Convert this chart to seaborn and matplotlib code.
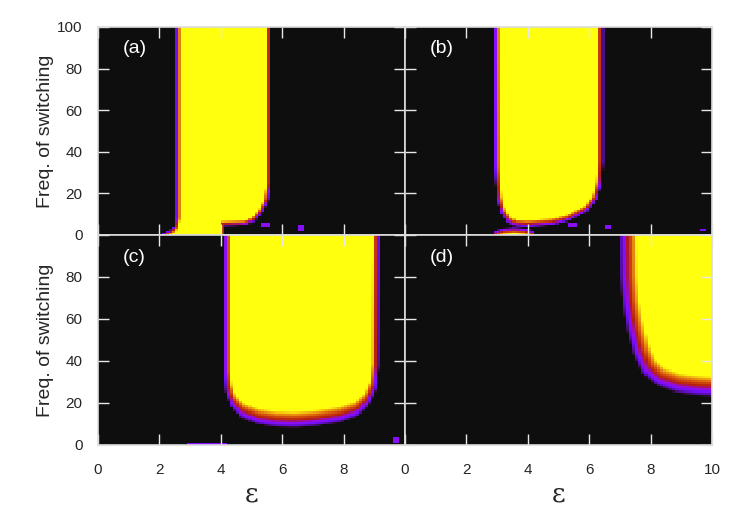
import numpy as np
import matplotlib
matplotlib.use("Agg")
import matplotlib.pyplot as plt
from matplotlib.path import Path
from matplotlib.colors import ListedColormap
import seaborn as sns

# ---------------- data ----------------
eps_ticks = [0, 2, 4, 6, 8, 10]
freq_ticks = [0, 20, 40, 60, 80, 100]
panel_labels = ["(a)", "(b)", "(c)", "(d)"]

# mid-level (red) contour of the yellow regions, as (eps, freq) vertices
a_eps = [2.6, 2.6, 2.52, 2.38, 2.2, 2.1, 4.05, 4.05, 4.8, 5.05, 5.3, 5.48, 5.56, 5.56]
a_freq = [110, 8, 3.5, 1.5, 0.5, -10, -10, 5.5, 5.8, 7.5, 11.5, 17, 25, 110]

b_eps = [2.99, 3.0, 3.07, 3.2, 3.4, 3.6, 4.0, 4.8, 5.3, 5.9, 6.2, 6.33, 6.37, 6.37]
b_freq = [110, 33, 18, 11, 7.2, 5.8, 5.5, 6.3, 8.2, 12.5, 18, 25, 35, 110]
b2_eps = [2.85, 2.95, 3.2, 3.55, 3.9, 4.15, 4.25]
b2_freq = [-5, 0.5, 1.8, 2.2, 1.8, 0.5, -5]

c_eps = [4.2, 4.2, 4.25, 4.4, 4.7, 5.2, 5.8, 6.4, 7.1, 7.8, 8.4, 8.75, 8.97, 9.05, 9.08]
c_freq = [110, 35, 27, 21, 16.5, 13.6, 12.3, 12, 12.8, 14.3, 17, 21.5, 28, 38, 110]

d_eps = [7.25, 7.28, 7.35, 7.5, 7.7, 7.95, 8.3, 8.9, 9.5, 10.5, 10.5]
d_freq = [110, 80, 68, 56, 45, 37, 32.5, 29.5, 28.3, 27.5, 110]

# isolated low-level specks: eps0, eps1, freq0, freq1, level
a_specks = [(5.33, 5.6, 3.7, 5.6, 0.3), (6.5, 6.7, 2.4, 4.5, 0.28)]
b_specks = [(5.3, 5.6, 4.0, 5.5, 0.3), (6.5, 6.7, 3.0, 4.5, 0.28), (9.6, 9.8, 2.0, 3.0, 0.25)]
c_specks = [(2.9, 4.2, 0.0, 1.0, 0.28), (9.6, 9.8, 1.5, 4.0, 0.3)]
d_specks = []

N_EPS, N_FREQ = 100, 100
PX_EPS, PX_FREQ = 30.7, 2.08  # pixels per data unit


def seg_dist(Q, P):
    d = np.full(Q.shape[0], np.inf)
    for a, b in zip(P[:-1], P[1:]):
        ab = b - a
        L = (ab ** 2).sum()
        t = np.clip(((Q - a) @ ab) / L, 0, 1)
        proj = a + t[:, None] * ab
        d = np.minimum(d, np.sqrt(((Q - proj) ** 2).sum(axis=1)))
    return d


def build_field(polys, wx, wy, specks):
    ec = (np.arange(N_EPS) + 0.5) * 10.0 / N_EPS
    fc = (np.arange(N_FREQ) + 0.5) * 100.0 / N_FREQ
    E, F = np.meshgrid(ec, fc)
    sx, sy = PX_EPS / wx, PX_FREQ / wy
    Q = np.column_stack([E.ravel() * sx, F.ravel() * sy])
    v = np.zeros(E.size)
    for pe, pf in polys:
        P = np.column_stack([np.array(pe) * sx, np.array(pf) * sy])
        P = np.vstack([P, P[:1]])
        inside = Path(P).contains_points(Q)
        d = seg_dist(Q, P)
        sd = np.where(inside, d, -d)
        v = np.maximum(v, np.clip(0.5 + 0.5 * sd, 0, 1))
    v = v.reshape(E.shape)
    for e0, e1, f0, f1, val in specks:
        m = (E >= e0) & (E <= e1) & (F >= f0) & (F <= f1)
        v[m] = np.maximum(v[m], val)
    return v


fields = [
    build_field([(a_eps, a_freq)], 2.6, 2.6, a_specks),
    build_field([(b_eps, b_freq), (b2_eps, b2_freq)], 3.0, 3.5, b_specks),
    build_field([(c_eps, c_freq)], 3.8, 8.0, c_specks),
    build_field([(d_eps, d_freq)], 9.0, 10.0, d_specks),
]

# gnuplot (7,5,15) palette with a slightly lifted black, like the textured print
base = plt.get_cmap("gnuplot")(np.linspace(0, 1, 256))
base[:, :3] = np.maximum(base[:, :3], 0.055)
cmap = ListedColormap(base)

# ---------------- figure ----------------
sns.set_style("white")
plt.rcParams["font.family"] = ["Liberation Sans", "DejaVu Sans"]

fig = plt.figure(figsize=(7.5, 5.25), dpi=100)
W, H = 750.0, 525.0
boxes = [
    (98, 27, 405, 235),
    (405, 27, 712, 235),
    (98, 235, 405, 445),
    (405, 235, 712, 445),
]

for k, (x0, y0, x1, y1) in enumerate(boxes):
    ax = fig.add_axes([x0 / W, 1 - y1 / H, (x1 - x0) / W, (y1 - y0) / H])
    sns.heatmap(fields[k], ax=ax, cmap=cmap, vmin=0, vmax=1, cbar=False,
                xticklabels=False, yticklabels=False)
    ax.invert_yaxis()
    ax.set_xlim(0, N_EPS)
    ax.set_ylim(0, N_FREQ)
    ax.set_axisbelow(False)
    for s in ax.spines.values():
        s.set_visible(True)
        s.set_color("#dcdcdc")
        s.set_linewidth(1.2)
        s.set_zorder(5)
    ax.set_xticks([e * N_EPS / 10 for e in eps_ticks])
    ax.set_yticks([f * N_FREQ / 100 for f in freq_ticks])
    ax.tick_params(direction="in", length=8, width=1, color="#e8e8e8",
                   top=True, right=True, bottom=True, left=True,
                   labelsize=11, pad=11)
    ax.tick_params(axis="x", pad=13)
    if k == 0:
        ax.set_yticklabels([str(f) for f in freq_ticks])
    elif k == 2:
        ax.set_yticklabels([str(f) if f < 100 else "" for f in freq_ticks])
    else:
        ax.set_yticklabels([])
    if k == 2:
        ax.set_xticklabels([str(e) if e < 10 else "" for e in eps_ticks])
    elif k == 3:
        ax.set_xticklabels([str(e) for e in eps_ticks])
    else:
        ax.set_xticklabels([])
    if k in (0, 2):
        ax.set_ylabel("Freq. of switching", fontsize=14)
        ax.yaxis.set_label_coords(-0.143, 0.5)
    else:
        ax.set_ylabel("")
    if k in (2, 3):
        ax.set_xlabel("\u03b5", fontsize=19, family="DejaVu Serif")
        ax.xaxis.set_label_coords(0.5, -0.175)
    else:
        ax.set_xlabel("")
    ax.text(8.1, 89.5, panel_labels[k], color="white", fontsize=14,
            ha="left", va="center", zorder=6)

fig.savefig("out.png", dpi=100)
